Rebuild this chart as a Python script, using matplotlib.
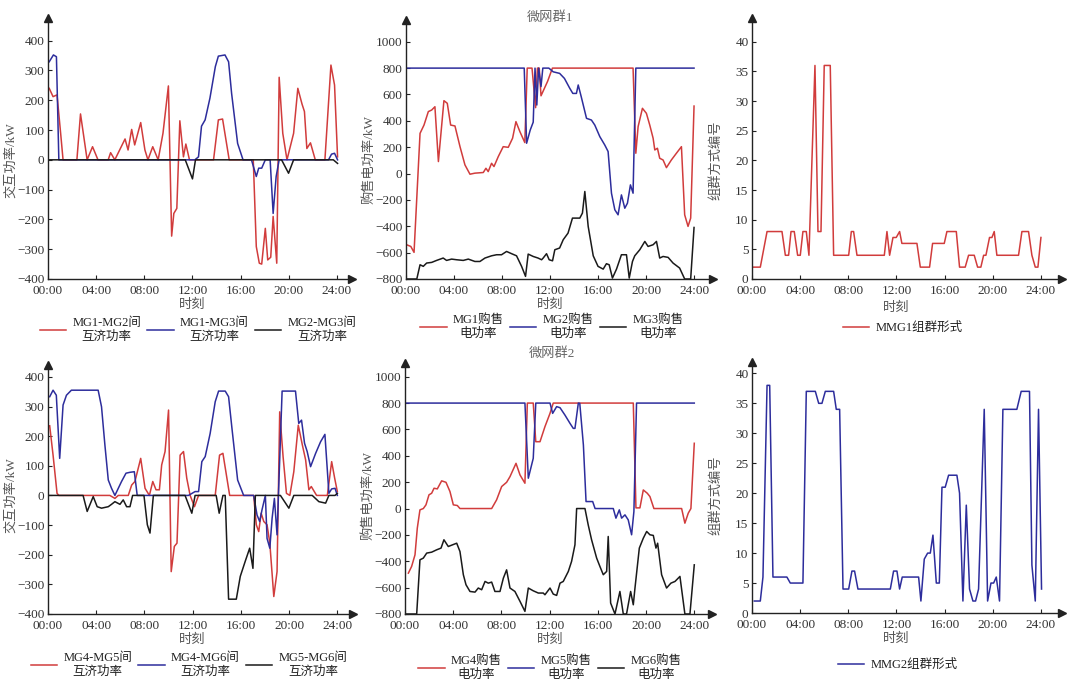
import matplotlib
matplotlib.use("Agg")
import matplotlib.pyplot as plt

plt.rcParams['font.family'] = ['Liberation Serif', 'Noto Sans CJK SC']
plt.rcParams['font.size'] = 9.5

RED = '#d13c3c'
BLUE = '#2d2d9c'
BLACK = '#1a1a1a'

# ---------------- 微网群1: 交互功率 ----------------
t12 = [0.1, 0.42, 0.75, 1.05, 1.25, 2.4, 2.7, 3.25, 3.7, 4.15, 5.0, 5.2, 5.55, 6.4, 6.65, 6.95,
       7.2, 7.7, 8.05, 8.3, 8.7, 9.15, 9.55, 10.0, 10.27, 10.45, 10.7, 10.95, 11.25, 11.45, 11.75,
       13.75, 14.15, 14.5, 15.05, 17.05, 17.3, 17.55, 17.75, 18.05, 18.25, 18.5, 18.7, 19.0, 19.2,
       19.5, 19.85, 20.4, 20.75, 21.1, 21.3, 21.5, 21.8, 22.2, 23.0, 23.5, 23.8, 24.05]
p12 = [240, 212, 218, 89, 0, 0, 154, 0, 44, 0, 0, 24, 0, 70, 33, 102,
       50, 125, 33, 0, 44, 0, 89, 248, -256, -180, -163, 131, 10, 53, 0,
       0, 134, 137, 0, 0, -291, -347, -350, -230, -336, -327, -190, -347, 277,
       89, 0, 89, 240, 187, 162, 38, 57, 0, 0, 318, 251, 10]

t13 = [0.1, 0.45, 0.7, 0.9, 12.2, 12.5, 12.75, 13.05, 13.45, 13.9, 14.15, 14.7, 15.0, 15.25,
       15.75, 16.2, 16.9, 17.3, 17.5, 17.75, 18.05, 18.45, 18.7, 18.95, 19.2, 23.3, 23.55, 23.8, 24.05]
p13 = [329, 352, 346, 0, 0, 10, 113, 134, 207, 313, 348, 352, 329, 223,
       55, 0, 0, -56, -28, -28, 0, 0, -180, -56, 0, 0, 19, 22, 0]

t23 = [0.0, 11.4, 12.0, 12.25, 19.4, 19.98, 20.4, 23.7, 24.05]
p23 = [0, 0, -64, 0, 0, -45, 0, 0, -12]

# ---------------- 微网群1: 购售电功率 ----------------
t1 = [0.05, 0.4, 0.67, 1.17, 1.5, 1.86, 2.14, 2.41, 2.7, 3.16, 3.44, 3.72, 4.08, 4.5, 4.91,
      5.33, 5.74, 6.44, 6.66, 6.85, 7.13, 7.33, 7.69, 8.1, 8.52, 8.88, 9.16, 9.49, 9.9, 10.1,
      10.5, 10.8, 10.95, 11.1, 11.25, 11.5, 11.8, 12.2, 18.92, 19.15, 19.34, 19.7, 20.03, 20.31,
      20.59, 20.73, 20.95, 21.14, 21.42, 21.7, 22.11, 22.53, 22.95, 23.22, 23.5, 23.72, 24.0]
p1 = [-540, -553, -598, 305, 368, 470, 482, 507, 91, 553, 533, 368, 361, 204, 66,
      -5, 3, 8, 40, 15, 78, 53, 129, 204, 199, 268, 394, 318, 235, 800,
      800, 500, 800, 800, 590, 640, 700, 800, 800, 154, 356, 495, 457, 368,
      268, 179, 192, 116, 103, 45, 103, 154, 204, -313, -401, -338, 512]

t2 = [0.0, 9.85, 10.05, 10.35, 10.6, 10.75, 10.9, 11.05, 11.25, 11.4, 11.9, 12.26, 12.8, 13.2,
      13.65, 13.9, 14.2, 14.35, 14.6, 15.04, 15.45, 15.73, 16.15, 16.56, 16.84, 17.12, 17.4,
      17.67, 17.95, 18.23, 18.45, 18.7, 18.92, 19.15, 24.0]
p2 = [800, 800, 230, 330, 390, 800, 520, 800, 660, 800, 800, 772, 760, 722,
      646, 608, 608, 672, 583, 419, 406, 368, 280, 217, 167, -149, -275,
      -313, -162, -263, -225, -86, -149, 800, 800]

t3 = [0.0, 0.9, 1.17, 1.44, 1.72, 2.14, 2.55, 3.1, 3.38, 3.8, 4.22, 4.77, 5.19, 5.74, 6.16,
      6.58, 7.13, 7.55, 7.96, 8.38, 8.8, 9.21, 9.63, 9.96, 10.18, 10.6, 11.0, 11.3, 11.43, 11.71,
      11.93, 12.21, 12.4, 12.8, 13.1, 13.5, 13.87, 14.48, 14.7, 14.9, 15.18, 15.6, 16.0, 16.43,
      16.7, 16.93, 17.2, 17.54, 17.95, 18.37, 18.6, 18.87, 19.06, 19.48, 19.9, 20.17, 20.59,
      20.87, 21.14, 21.42, 21.84, 22.25, 22.8, 23.22, 23.72, 24.0]
p3 = [-800, -800, -692, -704, -679, -674, -659, -641, -659, -649, -654, -659, -649, -667, -667,
      -641, -624, -616, -616, -591, -608, -624, -704, -780, -611, -629, -641, -654, -641, -608,
      -654, -662, -578, -565, -502, -452, -338, -338, -300, -136, -401, -624, -704, -725,
      -684, -692, -793, -725, -616, -616, -793, -667, -624, -578, -515, -553, -540,
      -515, -641, -629, -636, -679, -717, -800, -800, -409]

# ---------------- MMG1 组群形式 ----------------
tg1 = [0.14, 0.69, 1.25, 2.49, 2.77, 3.04, 3.24, 3.51, 3.79, 4.01, 4.23, 4.51, 4.73, 5.23,
       5.48, 5.73, 6.0, 6.5, 6.78, 8.03, 8.25, 8.44, 8.72, 10.99, 11.21, 11.43, 11.71, 11.98,
       12.26, 12.45, 13.7, 13.98, 14.75, 15.0, 15.97, 16.19, 16.97, 17.24, 17.71, 17.99, 18.46,
       18.74, 19.01, 19.24, 19.43, 19.73, 19.93, 20.12, 20.34, 22.14, 22.42, 22.97, 23.25,
       23.53, 23.75, 24.0]
g1 = [2, 2, 8, 8, 4, 4, 8, 8, 4, 4, 8, 8, 4, 36, 8, 8, 36, 36, 4, 4, 8, 8, 4, 4, 8, 4, 7, 7,
      8, 6, 6, 2, 2, 6, 6, 8, 8, 2, 2, 4, 4, 2, 2, 4, 4, 7, 7, 8, 4, 4, 8, 8, 4, 2, 2, 7]

# ---------------- 微网群2: 交互功率 ----------------
t45 = [0.14, 0.42, 0.75, 0.9, 5.13, 5.55, 5.83, 6.66, 6.94, 7.21, 7.69, 8.05, 8.41, 8.69,
       8.96, 9.24, 9.43, 9.71, 10.0, 10.22, 10.48, 10.7, 10.96, 11.24, 11.51, 11.79, 12.15,
       12.49, 13.87, 14.23, 14.51, 15.07, 17.06, 17.28, 17.48, 17.68, 17.9, 18.17, 18.4, 18.73,
       19.0, 19.22, 19.5, 19.78, 20.06, 20.39, 20.76, 21.1, 21.37, 21.64, 21.84, 22.28, 23.17,
       23.53, 23.78, 24.0]
p45 = [235, 136, 7, 0, 0, -10, 0, 0, 35, 47, 125, 24, 0, 47,
       19, 19, 103, 148, 288, -257, -172, -161, 136, 148, 58, 0, -38,
       0, 0, 136, 142, 0, 0, -99, -122, -60, -88, -99, -161, -341,
       -257, 282, 131, 7, 0, 80, 237, 170, 120, 19, 30, 0, 0,
       114, 58, 13]

t46 = [0.14, 0.42, 0.69, 0.97, 1.25, 1.53, 1.94, 4.16, 4.44, 4.72, 5.0, 5.27, 5.55, 5.83, 6.1,
       6.47, 6.8, 7.16, 7.4, 11.65, 12.2, 12.49, 12.76, 13.04, 13.45, 13.87, 14.15, 14.7, 14.98,
       15.26, 15.73, 16.23, 17.06, 17.34, 17.56, 17.75, 18.03, 18.17, 18.4, 18.59, 18.78, 19.0,
       19.42, 20.53, 20.8, 21.03, 21.28, 21.5, 21.78, 22.2, 22.61, 22.97, 23.3, 23.53, 23.81, 24.0]
p46 = [333, 355, 338, 125, 305, 338, 355, 355, 299, 170, 52, 24, 0, 24, 47,
       75, 78, 80, 0, 0, 13, 13, 114, 131, 209, 316, 352, 352, 333,
       226, 52, 0, 0, -66, -88, -49, 0, -145, -178, -77, -10, -133,
       352, 352, 243, 254, 176, 148, 97, 142, 181, 206, 7, 22, 24, 0]

t56 = [0.0, 2.91, 3.25, 3.75, 4.08, 4.44, 5.0, 5.27, 5.55, 5.97, 6.24, 6.52, 6.8, 7.02, 7.96,
       8.24, 8.46, 8.74, 11.37, 11.93, 12.2, 13.95, 14.2, 14.51, 14.7, 14.98, 15.62, 15.95,
       16.37, 16.73, 17.0, 17.2, 19.28, 19.98, 20.39, 21.92, 22.47, 23.03, 23.3, 23.81, 24.0]
p56 = [0, 0, -54, -4, -38, -43, -38, -30, -21, -30, -15, -38, -38, 0, 0,
       -99, -127, 0, 0, -60, 0, 0, -60, 0, 0, -350, -350, -273,
       -221, -178, -246, 0, 0, -43, 0, 0, -21, -26, 0, 0, 7]

# ---------------- 微网群2: 购售电功率 ----------------
t4 = [0.28, 0.55, 0.83, 1.02, 1.24, 1.52, 1.74, 1.99, 2.21, 2.41, 2.68, 3.04, 3.4, 3.73, 4.01,
      4.34, 4.56, 7.19, 7.6, 8.02, 8.43, 8.71, 9.21, 9.54, 9.95, 10.15, 10.64, 10.85, 11.2,
      11.61, 12.03, 12.3, 18.94, 19.16, 19.49, 19.77, 20.1, 20.32, 20.65, 22.95, 23.22, 23.5,
      23.72, 24.0]
p4 = [-490, -439, -351, -149, -10, 0, 28, 104, 116, 154, 149, 210, 199, 129, 28,
      23, 0, 0, 66, 167, 199, 242, 343, 255, 192, 800, 800, 507, 507,
      621, 722, 800, 800, 5, 5, 141, 116, 91, 0, 0, -111, -35,
      0, 495]

t5 = [0.0, 9.95, 10.23, 10.64, 10.85, 12.03, 12.25, 12.58, 12.86, 13.27, 13.69, 13.96, 14.1,
      14.38, 14.5, 14.8, 15.02, 15.57, 15.77, 17.28, 17.5, 17.78, 17.97, 18.25, 18.52, 18.8,
      18.99, 19.21, 24.0]
p5 = [800, 800, 230, 381, 800, 800, 722, 773, 765, 709, 646, 608, 608,
      800, 798, 482, 53, 53, 0, 0, -73, -10, -73, -48, -86, -199,
      -23, 800, 800]

t6 = [0.0, 0.97, 1.24, 1.52, 1.8, 2.21, 2.63, 2.99, 3.23, 3.59, 3.95, 4.29, 4.56, 4.84, 5.06,
      5.39, 5.81, 6.08, 6.36, 6.64, 6.91, 7.19, 7.46, 7.88, 8.16, 8.43, 8.71, 9.12, 9.54, 9.95,
      10.23, 10.64, 11.06, 11.47, 11.61, 12.03, 12.3, 12.58, 12.86, 13.13, 13.55, 13.82, 14.1,
      14.24, 14.93, 15.2, 15.48, 15.9, 16.17, 16.45, 16.73, 16.86, 17.06, 17.42, 17.83, 18.11,
      18.38, 18.72, 18.94, 19.08, 19.44, 19.77, 20.05, 20.32, 20.6, 20.82, 20.96, 21.29, 21.7,
      22.06, 22.4, 22.81, 23.22, 23.64, 24.0]
p6 = [-800, -800, -389, -376, -338, -331, -313, -300, -237, -288, -275, -263, -326, -502, -578,
      -629, -634, -603, -616, -553, -566, -558, -629, -629, -528, -465, -603, -629, -704, -780,
      -603, -624, -641, -641, -654, -603, -649, -659, -566, -553, -477, -401, -275,
      0, 0, -124, -237, -376, -439, -502, -477, -212, -717, -800, -629, -800,
      -800, -629, -730, -603, -300, -225, -174, -199, -204, -300, -263, -502, -603,
      -566, -553, -515, -800, -800, -427]

# ---------------- MMG2 组群形式 ----------------
tg2 = [0.19, 0.69, 0.91, 1.25, 1.47, 1.74, 2.9, 3.18, 4.23, 4.51, 5.26, 5.54, 5.81, 6.09, 6.78,
       7.0, 7.28, 7.56, 8.03, 8.3, 8.52, 8.8, 11.49, 11.76, 12.04, 12.26, 12.48, 13.84, 14.03,
       14.31, 14.59, 14.81, 15.03, 15.31, 15.56, 15.78, 16.05, 16.33, 17.02, 17.24, 17.52, 17.8,
       18.07, 18.35, 18.57, 18.82, 19.29, 19.57, 19.85, 20.07, 20.29, 20.56, 20.84, 22.0, 22.36,
       23.05, 23.25, 23.53, 23.8, 24.05]
g2 = [2, 2, 6, 38, 38, 6, 6, 5, 5, 37, 37, 35, 35, 37, 37,
      34, 34, 4, 4, 7, 7, 4, 4, 7, 7, 4, 6, 6, 2,
      9, 10, 10, 13, 5, 5, 21, 21, 23, 23, 20, 2, 18,
      4, 2, 2, 4, 34, 2, 5, 5, 6, 2, 34, 34, 37,
      37, 8, 2, 34, 4]

hour_ticks = [0, 4, 8, 12, 16, 20, 24]
hour_labels = ["00:00", "04:00", "08:00", "12:00", "16:00", "20:00", "24:00"]

W, H = 1080, 688
fig = plt.figure(figsize=(W / 100, H / 100), dpi=100)


def px(x, y):
    return x / W, 1 - y / H


def make_ax(l, r, t, b, xmax, ylim, yticks):
    ax = fig.add_axes([l / W, 1 - b / H, (r - l) / W, (b - t) / H])
    ax.set_xlim(0, xmax)
    ax.set_ylim(*ylim)
    ax.set_xticks(hour_ticks)
    ax.set_xticklabels(hour_labels)
    ax.set_yticks(yticks)
    for s in ["top", "right"]:
        ax.spines[s].set_visible(False)
    for s in ["left", "bottom"]:
        ax.spines[s].set_color("#222222")
        ax.spines[s].set_linewidth(1.0)
    ax.tick_params(direction="in", length=3, width=0.8, colors="#222222",
                   labelcolor="#333333", labelsize=9.5)
    ax.tick_params(axis="x", pad=4)
    ax.tick_params(axis="y", pad=2.5)
    ax.plot(1, 0, ">", color="#222222", ms=6, transform=ax.transAxes, clip_on=False)
    ax.plot(0, 1, "^", color="#222222", ms=6, transform=ax.transAxes, clip_on=False)
    return ax


def add_text(x, y, s, rot=0, color="#555555", size=9.5):
    fig.text(*px(x, y), s, ha="center", va="center", rotation=rot, color=color, fontsize=size)


def add_legend(handles, labels, cx, cy):
    leg = fig.legend(handles, labels, loc="center", bbox_to_anchor=px(cx, cy),
                     ncol=len(handles), frameon=False, fontsize=9, handlelength=2.1,
                     handletextpad=0.5, columnspacing=0.5, borderpad=0)
    for t in leg.get_texts():
        t.set_multialignment("center")
        t.set_color("#222222")
    return leg


lw = 1.1

# panel 1
ax1 = make_ax(48, 352, 18, 279, 25.25, (-400, 476), range(-400, 401, 100))
a, = ax1.plot(t12, p12, color=RED, lw=lw)
b, = ax1.plot(t13, p13, color=BLUE, lw=lw)
c, = ax1.plot(t23, p23, color=BLACK, lw=lw)
add_text(11, 160, "交互功率/kW", rot=90)
add_text(192, 305, "时刻")
add_legend([a, b, c], ["MG1-MG2间\n互济功率", "MG1-MG3间\n互济功率", "MG2-MG3间\n互济功率"], 198, 330)

# panel 2
ax2 = make_ax(406, 713, 20, 279, 25.58, (-800, 1165), range(-800, 1001, 200))
a, = ax2.plot(t1, p1, color=RED, lw=lw)
b, = ax2.plot(t2, p2, color=BLUE, lw=lw)
c, = ax2.plot(t3, p3, color=BLACK, lw=lw)
add_text(369, 160, "购售电功率/kW", rot=90)
add_text(550, 305, "时刻")
add_text(550, 18, "微网群1", color="#666666")
add_legend([a, b, c], ["MG1购售\n电功率", "MG2购售\n电功率", "MG3购售\n电功率"], 552, 327)

# panel 3
ax3 = make_ax(752, 1062, 18, 279, 25.75, (0, 44), range(0, 41, 5))
a, = ax3.plot(tg1, g1, color=RED, lw=lw)
add_text(716, 160, "组群方式编号", rot=90)
add_text(896, 308, "时刻")
add_legend([a], ["MMG1组群形式"], 903, 328)

# panel 4
ax4 = make_ax(48, 353, 365, 614, 25.3, (-400, 440), range(-400, 401, 100))
a, = ax4.plot(t45, p45, color=RED, lw=lw)
b, = ax4.plot(t46, p46, color=BLUE, lw=lw)
c, = ax4.plot(t56, p56, color=BLACK, lw=lw)
add_text(11, 495, "交互功率/kW", rot=90)
add_text(192, 640, "时刻")
add_legend([a, b, c], ["MG4-MG5间\n互济功率", "MG4-MG6间\n互济功率", "MG5-MG6间\n互济功率"], 189, 665)

# panel 5
ax5 = make_ax(405, 712, 363, 614, 25.47, (-800, 1104), range(-800, 1001, 200))
a, = ax5.plot(t4, p4, color=RED, lw=lw)
b, = ax5.plot(t5, p5, color=BLUE, lw=lw)
c, = ax5.plot(t6, p6, color=BLACK, lw=lw)
add_text(368, 495, "购售电功率/kW", rot=90)
add_text(550, 640, "时刻")
add_text(552, 354, "微网群2", color="#666666")
add_legend([a, b, c], ["MG4购售\n电功率", "MG5购售\n电功率", "MG6购售\n电功率"], 550, 668)

# panel 6
ax6 = make_ax(752, 1062, 362, 613, 25.75, (0, 41.9), range(0, 41, 5))
a, = ax6.plot(tg2, g2, color=BLUE, lw=lw)
add_text(716, 495, "组群方式编号", rot=90)
add_text(896, 639, "时刻")
add_legend([a], ["MMG2组群形式"], 898, 665)

fig.savefig("out.png", dpi=100)
